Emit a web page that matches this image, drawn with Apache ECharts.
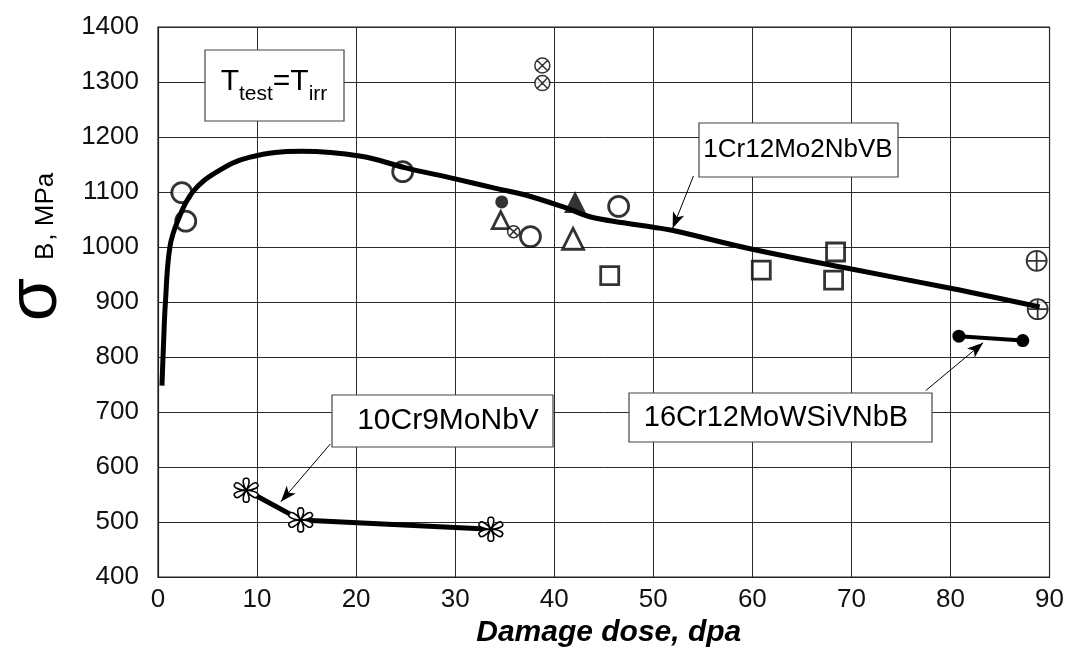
<!DOCTYPE html>
<html>
<head>
<meta charset="utf-8">
<script src="https://cdn.jsdelivr.net/npm/echarts@6/dist/echarts.min.js"></script>
<style>
  html, body { margin: 0; padding: 0; background: #fff; }
  #chart { width: 1067px; height: 653px; }
</style>
</head>
<body>
<div id="chart"></div>
<script>
// --------------------------
// data (x = dpa, y = MPa)
// --------------------------
const xTicks = [0, 10, 20, 30, 40, 50, 60, 70, 80, 90]
const yTicks = [400, 500, 600, 700, 800, 900, 1000, 1100, 1200, 1300, 1400]

// 1Cr12Mo2NbVB fit curve
const curve1Cr12 = [
  [0.4, 748], [0.55, 820], [0.75, 900], [1.2, 1000], [2, 1048], [3.5, 1100],
  [5.9, 1136], [9.2, 1163], [14.5, 1174], [20.5, 1165], [25, 1144], [30, 1124],
  [34, 1107], [37, 1095], [41.2, 1071], [43.6, 1055], [47, 1044], [50, 1036],
  [52, 1030], [60, 996], [70, 960], [80, 925], [89, 891]
]
// 1Cr12Mo2NbVB measured points, by symbol
const openCircles = [[2.4, 1099], [2.8, 1047], [24.7, 1137], [37.6, 1019], [46.5, 1074]]
const filledCircles = [[34.7, 1082]]
const openTriangles = [[34.6, 1049, 17], [41.9, 1015, 21]]
const filledTriangles = [[42.1, 1082]]
const crossCircles = [[35.9, 1028, 12], [38.8, 1330, 15], [38.8, 1298, 15]]
const openSquares = [[45.6, 948], [60.9, 958], [68.4, 991], [68.2, 940]]
const plusCircles = [[88.7, 975], [88.8, 887]]

// 16Cr12MoWSiVNbB
const line16Cr12 = [[80.85, 838], [87.3, 830]]
// 10Cr9MoNbV
const line10Cr9 = [[8.9, 558], [14.4, 504], [33.6, 487]]

// arrows from the label boxes (data coords)
const arrows = [
  [[54.05, 1129], [51.95, 1034]],
  [[77.5, 739], [83.3, 826]],
  [[17.4, 642], [12.4, 537]]
]

// --------------------------
// symbols
// --------------------------
const circleCross = 'path://M20,10A10,10,0,1,1,0,10A10,10,0,1,1,20,10ZM2.93,2.93L17.07,17.07M17.07,2.93L2.93,17.07'
const circlePlus = 'path://M20,10A10,10,0,1,1,0,10A10,10,0,1,1,20,10ZM0,10L20,10M10,0L10,20'

function flowerPath() {
  const p = (r, deg) => {
    const a = deg * Math.PI / 180
    return (r * Math.cos(a)).toFixed(2) + ',' + (r * Math.sin(a)).toFixed(2)
  }
  let d = ''
  for (let k = 0; k < 6; k++) {
    const a = k * 60 + 30
    d += 'M0,0C' + p(7, a - 28) + ' ' + p(11, a - 14) + ' ' + p(10, a) +
      'C' + p(11, a + 14) + ' ' + p(7, a + 28) + ' 0,0Z'
  }
  return 'path://' + d
}

const font = "'Liberation Sans', Arial, sans-serif"
const hollow = { color: '#fff', borderColor: '#000', borderWidth: 2.8 }

function scatter(data, symbol, size, style) {
  return {
    type: 'scatter',
    data: data.map(d => d.length > 2 ? { value: [d[0], d[1]], symbolSize: d[2] } : d),
    symbol: symbol,
    symbolSize: size,
    itemStyle: style,
    z: 2
  }
}

function box(x, y, w, h) {
  return {
    type: 'rect', z: 100,
    shape: { x: x, y: y, width: w, height: h },
    style: { fill: '#fff', stroke: '#444', lineWidth: 1.2 }
  }
}

function boxText(x, y, text, size) {
  return {
    type: 'text', z: 101, x: x, y: y,
    style: { text: text, font: size + 'px ' + font, fill: '#000', align: 'center', verticalAlign: 'middle' }
  }
}

const chart = echarts.init(document.getElementById('chart'))

chart.setOption({
  animation: false,
  backgroundColor: '#fff',
  grid: { left: 158, right: 9, top: 27, bottom: 72, show: true, borderColor: '#222', borderWidth: 1.2 },
  xAxis: {
    type: 'value',
    min: xTicks[0],
    max: xTicks[xTicks.length - 1],
    interval: 10,
    name: 'Damage dose, dpa',
    nameLocation: 'middle',
    nameGap: 30,
    nameTextStyle: { fontFamily: font, fontSize: 30, fontWeight: 'bold', fontStyle: 'italic', color: '#000', padding: [0, 0, 0, 10] },
    axisLine: { lineStyle: { color: '#222', width: 1.2 } },
    axisTick: { show: false },
    axisLabel: { fontFamily: font, fontSize: 26, color: '#111', margin: 10, formatter: v => String(v) },
    splitLine: { lineStyle: { color: '#2a2a2a', width: 1 } }
  },
  yAxis: {
    type: 'value',
    min: yTicks[0],
    max: yTicks[yTicks.length - 1],
    interval: 100,
    axisLine: { show: true, lineStyle: { color: '#222', width: 1.2 } },
    axisTick: { show: false },
    axisLabel: { fontFamily: font, fontSize: 26, color: '#111', margin: 19, formatter: v => String(v) },
    splitLine: { lineStyle: { color: '#2a2a2a', width: 1 } }
  },
  series: [
    scatter(openCircles, 'circle', 20, hollow),
    scatter(filledCircles, 'circle', 13, { color: '#000' }),
    scatter(openTriangles, 'triangle', 18, hollow),
    scatter(filledTriangles, 'triangle', 22, { color: '#000' }),
    scatter(crossCircles, circleCross, 14, { color: '#fff', borderColor: '#000', borderWidth: 1.5 }),
    scatter(openSquares, 'rect', 18, hollow),
    scatter(plusCircles, circlePlus, 20, { color: '#fff', borderColor: '#000', borderWidth: 1.8 }),
    {
      name: '1Cr12Mo2NbVB',
      type: 'line',
      data: curve1Cr12,
      smooth: 0.4,
      showSymbol: false,
      lineStyle: { color: '#000', width: 5 },
      z: 3,
      markLine: {
        silent: true,
        symbol: ['none', 'arrow'],
        symbolSize: [9, 16],
        label: { show: false },
        lineStyle: { color: '#000', width: 1, type: 'solid' },
        data: arrows.map(a => [{ coord: a[0] }, { coord: a[1] }])
      }
    },
    {
      name: '16Cr12MoWSiVNbB',
      type: 'line',
      data: line16Cr12,
      symbol: 'circle',
      symbolSize: 13,
      itemStyle: { color: '#000' },
      lineStyle: { color: '#000', width: 4 },
      z: 3
    },
    {
      name: '10Cr9MoNbV',
      type: 'line',
      data: line10Cr9,
      symbol: flowerPath(),
      symbolSize: 24,
      itemStyle: { color: '#fff', borderColor: '#000', borderWidth: 1.6 },
      lineStyle: { color: '#000', width: 5 },
      z: 3
    }
  ],
  graphic: [
    // y axis title
    {
      type: 'text',
      x: 37,
      y: 247,
      rotation: Math.PI / 2,
      z: 100,
      style: {
        text: '{s|σ}{b|B}{m|, MPa}',
        align: 'center',
        verticalAlign: 'middle',
        rich: {
          s: { fontFamily: font, fontSize: 70, lineHeight: 70, verticalAlign: 'bottom', fill: '#000' },
          b: { fontFamily: font, fontSize: 26, lineHeight: 26, verticalAlign: 'bottom', padding: [0, 2, 13, 18], fill: '#000' },
          m: { fontFamily: font, fontSize: 26, lineHeight: 26, verticalAlign: 'bottom', padding: [0, 0, 13, 0], fill: '#000' }
        }
      }
    },
    // label boxes
    box(205, 50, 139, 71),
    {
      type: 'text', z: 101, x: 274, y: 86,
      style: {
        text: '{t|T}{s|test}{t|=T}{s|irr}',
        align: 'center', verticalAlign: 'middle',
        rich: {
          t: { fontFamily: font, fontSize: 30, lineHeight: 30, verticalAlign: 'top', fill: '#000' },
          s: { fontFamily: font, fontSize: 21, lineHeight: 38, verticalAlign: 'bottom', fill: '#000' }
        }
      }
    },
    box(699, 123, 199, 54),
    boxText(798, 150, '1Cr12Mo2NbVB', 26),
    box(629, 393, 303, 49),
    boxText(776, 418, '16Cr12MoWSiVNbB', 29),
    box(332, 395, 221, 52),
    boxText(448, 421, '10Cr9MoNbV', 30)
  ]
})
</script>
</body>
</html>
